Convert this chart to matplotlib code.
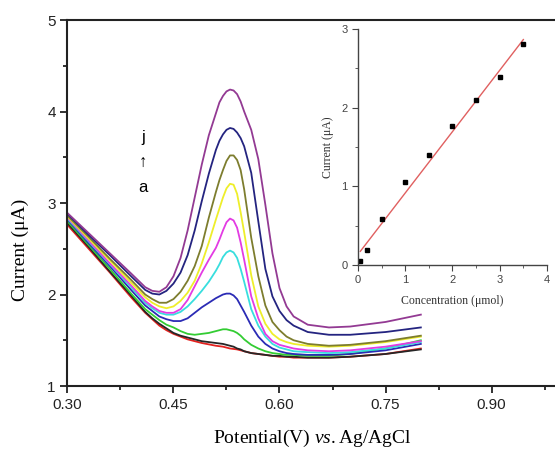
import numpy as np
import matplotlib
matplotlib.use("Agg")
import matplotlib.pyplot as plt
from matplotlib.ticker import MultipleLocator, FixedLocator, FormatStrFormatter

plt.rcParams['font.family'] = ['Liberation Sans', 'DejaVu Sans']
plt.rcParams['mathtext.fontset'] = 'custom'
plt.rcParams['mathtext.rm'] = 'Liberation Serif'
plt.rcParams['mathtext.it'] = 'Liberation Serif:italic'

# DPV scans, potential in V vs Ag/AgCl
potential = [0.30, 0.33, 0.36, 0.39, 0.41, 0.42, 0.43, 0.44, 0.45, 0.46, 0.47, 0.48,
             0.49, 0.50, 0.51, 0.515, 0.52, 0.525, 0.53, 0.535, 0.54, 0.545, 0.55, 0.56,
             0.57, 0.58, 0.59, 0.60, 0.61, 0.62, 0.64, 0.67, 0.70, 0.75, 0.80]

curve_a = [2.76, 2.50, 2.24, 1.97, 1.80, 1.73, 1.66, 1.61, 1.57, 1.54, 1.51, 1.49,
           1.47, 1.455, 1.44, 1.435, 1.43, 1.42, 1.41, 1.405, 1.40, 1.39, 1.38, 1.36,
           1.35, 1.34, 1.33, 1.32, 1.32, 1.31, 1.31, 1.31, 1.32, 1.35, 1.41]
curve_b = [2.78, 2.52, 2.25, 1.99, 1.81, 1.74, 1.68, 1.63, 1.58, 1.55, 1.53, 1.51,
           1.49, 1.48, 1.47, 1.465, 1.46, 1.45, 1.44, 1.43, 1.41, 1.40, 1.38, 1.36,
           1.35, 1.34, 1.33, 1.33, 1.32, 1.32, 1.31, 1.31, 1.32, 1.35, 1.40]
curve_c = [2.80, 2.54, 2.28, 2.01, 1.84, 1.78, 1.72, 1.67, 1.64, 1.60, 1.57, 1.56,
           1.57, 1.58, 1.60, 1.61, 1.62, 1.62, 1.61, 1.60, 1.58, 1.55, 1.51, 1.45,
           1.41, 1.38, 1.36, 1.35, 1.34, 1.34, 1.33, 1.33, 1.35, 1.41, 1.50]
curve_d = [2.82, 2.56, 2.31, 2.05, 1.88, 1.82, 1.76, 1.73, 1.71, 1.71, 1.74, 1.80,
           1.86, 1.91, 1.96, 1.98, 2.00, 2.01, 2.01, 1.99, 1.95, 1.88, 1.81, 1.66,
           1.54, 1.46, 1.41, 1.38, 1.36, 1.35, 1.34, 1.34, 1.35, 1.39, 1.46]
curve_e = [2.83, 2.58, 2.33, 2.08, 1.91, 1.85, 1.80, 1.78, 1.78, 1.81, 1.87, 1.95,
           2.04, 2.14, 2.26, 2.33, 2.41, 2.46, 2.48, 2.46, 2.40, 2.28, 2.14, 1.84,
           1.66, 1.54, 1.46, 1.42, 1.40, 1.38, 1.37, 1.36, 1.37, 1.41, 1.48]
curve_f = [2.84, 2.59, 2.34, 2.10, 1.93, 1.87, 1.82, 1.80, 1.80, 1.84, 1.94, 2.09,
           2.24, 2.38, 2.51, 2.60, 2.70, 2.79, 2.83, 2.81, 2.73, 2.57, 2.38, 1.98,
           1.74, 1.57, 1.49, 1.45, 1.43, 1.41, 1.39, 1.38, 1.39, 1.43, 1.49]
curve_g = [2.85, 2.61, 2.37, 2.13, 1.97, 1.91, 1.87, 1.85, 1.87, 1.93, 2.02, 2.15,
           2.34, 2.57, 2.82, 2.94, 3.06, 3.16, 3.21, 3.20, 3.10, 2.90, 2.68, 2.21,
           1.87, 1.68, 1.57, 1.51, 1.48, 1.46, 1.44, 1.43, 1.44, 1.48, 1.54]
curve_h = [2.86, 2.63, 2.39, 2.16, 2.00, 1.95, 1.91, 1.91, 1.95, 2.03, 2.15, 2.31,
           2.53, 2.84, 3.12, 3.25, 3.36, 3.46, 3.52, 3.52, 3.47, 3.36, 3.15, 2.62,
           2.20, 1.88, 1.70, 1.61, 1.54, 1.50, 1.46, 1.44, 1.45, 1.49, 1.55]
curve_i = [2.88, 2.65, 2.43, 2.20, 2.05, 2.01, 2.00, 2.04, 2.12, 2.24, 2.43, 2.70,
           3.02, 3.32, 3.58, 3.68, 3.75, 3.80, 3.82, 3.81, 3.77, 3.71, 3.62, 3.33,
           2.80, 2.28, 1.98, 1.82, 1.72, 1.66, 1.59, 1.56, 1.56, 1.59, 1.64]
curve_j = [2.89, 2.67, 2.45, 2.23, 2.08, 2.04, 2.03, 2.08, 2.20, 2.40, 2.70, 3.06,
           3.42, 3.74, 3.98, 4.10, 4.17, 4.22, 4.24, 4.23, 4.19, 4.11, 4.00, 3.80,
           3.48, 2.98, 2.45, 2.07, 1.87, 1.76, 1.67, 1.64, 1.65, 1.70, 1.78]

curves = [curve_a, curve_b, curve_c, curve_d, curve_e, curve_f, curve_g, curve_h, curve_i, curve_j]
colors = ['#e3221f', '#262626', '#33cc33', '#2b2bb5', '#38dede', '#e33be3',
          '#eeee2a', '#7d7d2e', '#242480', '#933a93']

# calibration data for the inset
conc = [0.05, 0.2, 0.5, 1.0, 1.5, 2.0, 2.5, 3.0, 3.5]
peak_current = [0.05, 0.19, 0.58, 1.05, 1.40, 1.77, 2.10, 2.39, 2.81]

fig = plt.figure(figsize=(5.55, 4.5), dpi=100)
ax = fig.add_axes([0.1216, 0.1422, 0.955, 0.8133])

for y, c in zip(curves, colors):
    ax.plot(potential, y, color=c, lw=1.3)

ax.set_xlim(0.30, 1.05)
ax.set_ylim(1, 5)
ax.xaxis.set_major_locator(FixedLocator([0.30, 0.45, 0.60, 0.75, 0.90]))
ax.xaxis.set_minor_locator(FixedLocator([0.375, 0.525, 0.675, 0.825, 0.975]))
ax.xaxis.set_major_formatter(FormatStrFormatter('%.2f'))
ax.yaxis.set_major_locator(MultipleLocator(1))
ax.yaxis.set_minor_locator(MultipleLocator(0.5))
ax.tick_params(which='both', direction='out', width=1.3, labelsize=11, colors='#222222')
ax.tick_params(which='major', length=5)
ax.tick_params(which='minor', length=3)
for s in ax.spines.values():
    s.set_linewidth(1.5)
    s.set_color('#222222')

ax.text(0.407, 3.72, 'j', ha='center', va='center', fontsize=12)
ax.text(0.407, 3.44, '\u2191', ha='center', va='center', fontsize=12)
ax.text(0.407, 3.17, 'a', ha='center', va='center', fontsize=12)

fig.text(20 / 555, 1 - 250 / 450, 'Current (\u03bcA)', rotation=90, ha='center', va='center',
         family='Liberation Serif', fontsize=14)
fig.text(312 / 555, 1 - 438 / 450, r'Potential(V) $\mathit{vs.}$Ag/AgCl', ha='center', va='center',
         family='Liberation Serif', fontsize=14)

# inset: peak current vs concentration
ins = fig.add_axes([0.645, 0.411, 0.3405, 0.5244])
fit = np.polyfit(conc, peak_current, 1)
xfit = np.array([conc[0], conc[-1]])
ins.plot(xfit, np.polyval(fit, xfit), color='#e06060', lw=1.0)
ins.plot(conc, peak_current, 's', color='black', ms=3.5)
ins.set_xlim(0, 4)
ins.set_ylim(0, 3)
ins.spines['top'].set_visible(False)
ins.spines['right'].set_visible(False)
for s in ['left', 'bottom']:
    ins.spines[s].set_color('#444444')
    ins.spines[s].set_linewidth(1.0)
ins.xaxis.set_major_locator(MultipleLocator(1))
ins.xaxis.set_minor_locator(MultipleLocator(0.5))
ins.yaxis.set_major_locator(MultipleLocator(1))
ins.yaxis.set_minor_locator(MultipleLocator(0.5))
ins.tick_params(which='both', direction='out', labelsize=8, colors='#444444')
ins.tick_params(which='major', length=4)
ins.tick_params(which='minor', length=2)
ins.patch.set_alpha(0)
ins.set_ylabel('Current (\u03bcA)', family='Liberation Serif', fontsize=8.5, color='#333333', labelpad=5)
ins.set_xlabel('Concentration (\u03bcmol)', family='Liberation Serif', fontsize=8.5, color='#333333',
               labelpad=7)

fig.savefig('out.png', dpi=100)
